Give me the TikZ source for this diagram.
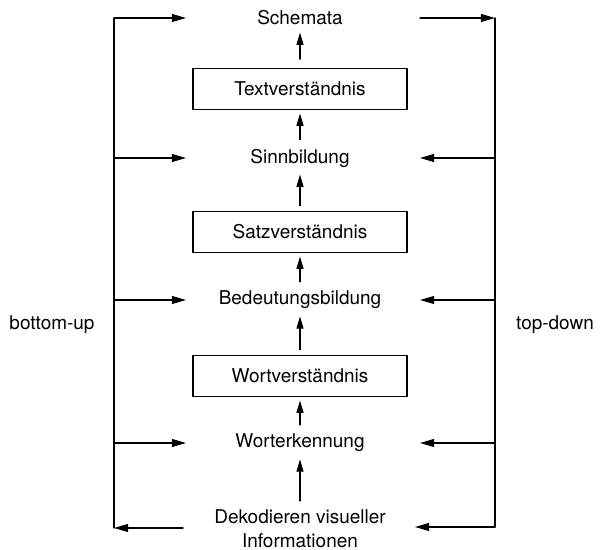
\documentclass[tikz,border=0pt]{standalone}
\usepackage{fontspec}
\setmainfont{TeX Gyre Heros}
\usetikzlibrary{arrows.meta}

\begin{document}
\begin{tikzpicture}[x=0.02cm,y=-0.02cm,line cap=round,line join=round,
  font=\fontsize{10.8}{13.5}\selectfont,
  arr/.style={line width=0.6pt,-{Triangle[length=8pt,width=4.5pt]}},
  upar/.style={line width=0.6pt,-{Triangle[length=7pt,width=4pt]},shorten <=3pt,shorten >=2pt},
  stufe/.style={draw,line width=0.6pt,minimum width=4.28cm,minimum height=0.82cm,inner sep=0pt},
  ebene/.style={inner sep=2pt}]
  \useasboundingbox (0,0) rectangle (600,550);
  % levels
  \node[ebene] (schemata) at (300,18) {Schemata};
  \node[stufe] (textv) at (300,89) {Textverständnis};
  \node[ebene] (sinn) at (300,158) {Sinnbildung};
  \node[stufe] (satzv) at (300,232) {Satzverständnis};
  \node[ebene] (bedeut) at (300,300) {Bedeutungsbildung};
  \node[stufe] (wortv) at (300,376) {Wortverständnis};
  \node[ebene] (worterk) at (300,443) {Worterkennung};
  \node[ebene,align=center] (dekod) at (300,529) {Dekodieren visueller\\Informationen};
  % upward arrows
  \draw[upar,shorten <=5pt] (textv) -- (schemata);
  \draw[upar] (sinn) -- (textv);
  \draw[upar] (satzv) -- (sinn);
  \draw[upar] (bedeut) -- (satzv);
  \draw[upar] (wortv) -- (bedeut);
  \draw[upar] (worterk) -- (wortv);
  \draw[upar] (dekod) -- (worterk);
  % side lines
  \coordinate (lt) at (114,18);
  \coordinate (lb) at (114,528);
  \coordinate (rt) at (495,18);
  \coordinate (rb) at (495,527);
  \coordinate (lend) at (186,0);
  \coordinate (rend) at (420,0);
  \draw[line width=0.6pt] (lt) -- (lb);
  \draw[line width=0.6pt] (rt) -- (rb);
  \draw[arr] (lt) -- (lend |- lt);
  \draw[arr] (rend |- rt) -- (rt);
  \draw[arr] (183,528) -- (lb);
  \draw[arr] (rb) -- (415,527);
  \foreach \n in {sinn,bedeut,worterk} {
    \draw[arr] (lt |- \n) -- (lend |- \n);
    \draw[arr] (rt |- \n) -- (rend |- \n);
  }
  \node (bu) at (52,325) {bottom-up};
  \node (td) at (555,325) {top-down};
\end{tikzpicture}
\end{document}
